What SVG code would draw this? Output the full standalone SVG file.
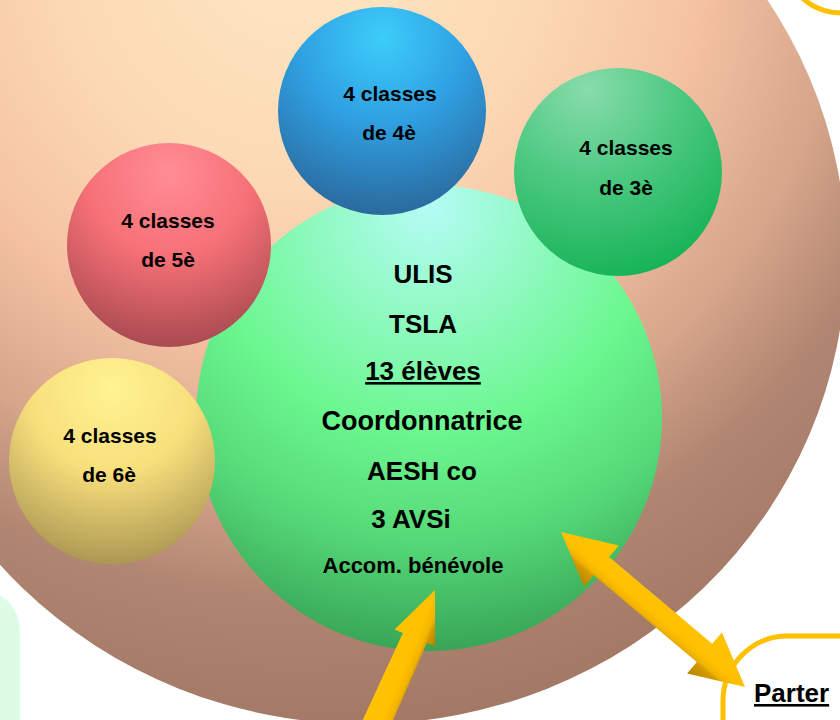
<svg xmlns="http://www.w3.org/2000/svg" width="840" height="720" viewBox="0 0 840 720">
<defs>
<style>
text{font-family:"Liberation Sans",Arial,sans-serif;font-weight:bold;fill:#000;text-anchor:middle}
.s{font-size:21px}
.m{font-size:26px}
.u{text-decoration:underline}
</style>
<radialGradient id="bg" gradientUnits="userSpaceOnUse" cx="300" cy="-60" r="800">
<stop offset="0" stop-color="#fee8c4"/>
<stop offset="0.3" stop-color="#fcd9b4"/>
<stop offset="0.5" stop-color="#f5c3a3"/>
<stop offset="0.68" stop-color="#d6a58a"/>
<stop offset="0.82" stop-color="#b08571"/>
<stop offset="1" stop-color="#a27865"/>
</radialGradient>
<radialGradient id="gBlue" cx="0.5" cy="0.15" r="0.9">
<stop offset="0" stop-color="#3ccdfa"/>
<stop offset="0.45" stop-color="#2fa0e2"/>
<stop offset="1" stop-color="#2a6496"/>
</radialGradient>
<radialGradient id="gGreen" cx="0.35" cy="0.1" r="0.95">
<stop offset="0" stop-color="#88dcab"/>
<stop offset="0.45" stop-color="#4fca83"/>
<stop offset="1" stop-color="#14b255"/>
</radialGradient>
<radialGradient id="gRed" cx="0.5" cy="0.15" r="0.9">
<stop offset="0" stop-color="#ff8d96"/>
<stop offset="0.45" stop-color="#f77077"/>
<stop offset="1" stop-color="#a0474c"/>
</radialGradient>
<radialGradient id="gYellow" cx="0.5" cy="0.15" r="0.9">
<stop offset="0" stop-color="#fff392"/>
<stop offset="0.45" stop-color="#f8df7c"/>
<stop offset="1" stop-color="#a4904e"/>
</radialGradient>
<radialGradient id="gBig" cx="0.5" cy="0.05" r="0.95">
<stop offset="0" stop-color="#b4fcf4"/>
<stop offset="0.5" stop-color="#6cf790"/>
<stop offset="0.75" stop-color="#55d978"/>
<stop offset="1" stop-color="#38a556"/>
</radialGradient>
<linearGradient id="gArr1" gradientUnits="userSpaceOnUse" x1="618.9" y1="545.4" x2="584.1" y2="586.8">
<stop offset="0" stop-color="#ffc400"/>
<stop offset="0.55" stop-color="#ffc000"/>
<stop offset="0.68" stop-color="#f2b400"/>
<stop offset="0.75" stop-color="#d39a00"/>
<stop offset="1" stop-color="#b88400"/>
</linearGradient>
<linearGradient id="gArr2" gradientUnits="userSpaceOnUse" x1="394.6" y1="629.4" x2="435.2" y2="646.4">
<stop offset="0" stop-color="#ffc400"/>
<stop offset="0.55" stop-color="#ffc000"/>
<stop offset="0.72" stop-color="#f2b400"/>
<stop offset="0.8" stop-color="#d39a00"/>
<stop offset="1" stop-color="#b07e00"/>
</linearGradient>
</defs>
<rect width="840" height="720" fill="#ffffff"/>
<g id="background">
<ellipse cx="363" cy="256" rx="483" ry="468" fill="url(#bg)"/>
</g>
<g id="box-top-right">
<rect x="782" y="-200" width="200" height="213" rx="60" fill="#ffffff" stroke="#ffc000" stroke-width="5"/>
</g>
<g id="box-bottom-left">
<rect x="-100" y="590" width="120" height="200" rx="40" fill="#dcfce6"/>
</g>
<g id="box-partenaires">
<rect x="723" y="636" width="200" height="200" rx="65" fill="#ffffff" stroke="#ffc000" stroke-width="5"/>
<text class="m u" x="754" y="702" style="text-anchor:start">Parter</text>
</g>
<g id="ulis">
<circle cx="429" cy="418" r="233" fill="url(#gBig)"/>
<text class="m" x="423" y="283">ULIS</text>
<text class="m" x="423" y="333">TSLA</text>
<text class="m u" x="423" y="380">13 élèves</text>
<text x="422" y="430" style="font-size:27px">Coordonnatrice</text>
<text class="m" x="422" y="480">AESH co</text>
<text class="m" x="411" y="528">3 AVSi</text>
<text x="413" y="573" style="font-size:22px">Accom. bénévole</text>
</g>
<g id="c4">
<circle cx="382" cy="111" r="104" fill="url(#gBlue)"/>
<text class="s" x="390" y="101">4 classes</text>
<text class="s" x="389" y="140">de 4è</text>
</g>
<g id="c3">
<circle cx="618" cy="172" r="104" fill="url(#gGreen)"/>
<text class="s" x="626" y="155">4 classes</text>
<text class="s" x="626" y="195">de 3è</text>
</g>
<g id="c5">
<circle cx="169" cy="245" r="102" fill="url(#gRed)"/>
<text class="s" x="168" y="228">4 classes</text>
<text class="s" x="168" y="267">de 5è</text>
</g>
<g id="c6">
<circle cx="112" cy="461" r="103" fill="url(#gYellow)"/>
<text class="s" x="110" y="443">4 classes</text>
<text class="s" x="109" y="482">de 6è</text>
</g>
<g id="connectors">
<polygon fill="url(#gArr1)" points="561,532 618.9,545.4 609.2,556.9 712.2,643.7 721.9,632.2 745,687 687.1,673.6 696.8,662.1 593.8,575.3 584.1,586.8"/>
<polygon fill="url(#gArr2)" points="435,590 435.2,646.4 426.9,642.9 380,750 354,739 402.9,632.9 394.6,629.4"/>
</g>
</svg>
